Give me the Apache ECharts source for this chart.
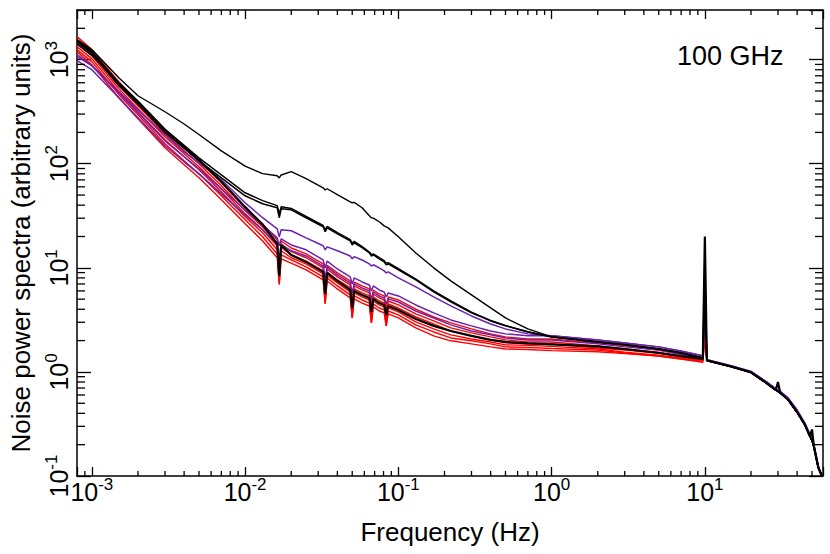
<!DOCTYPE html>
<html>
<head>
<meta charset="utf-8">
<script src="https://cdn.jsdelivr.net/npm/echarts@6/dist/echarts.min.js"></script>
<style>
  html, body { margin: 0; padding: 0; background: #fff; }
  #chart { width: 830px; height: 554px; }
</style>
</head>
<body>
<div id="chart"></div>
<script>
// frequencies (Hz), shared by every spectrum
const freq = [0.0008, 0.001, 0.0015, 0.002, 0.003, 0.004, 0.005, 0.007, 0.01, 0.013,
  0.0162, 0.0167, 0.0172, 0.02, 0.025,
  0.0323, 0.0333, 0.0343, 0.04,
  0.0485, 0.05, 0.0515, 0.058,
  0.0647, 0.0667, 0.0687, 0.075,
  0.0808, 0.0833, 0.0858,
  0.1, 0.13, 0.17, 0.22, 0.3, 0.4, 0.5, 0.7,
  1, 2, 3, 5, 7, 9.7, 10, 10.3,
  15, 20, 25, 29, 30, 31, 35, 40, 45, 48.5, 50, 51.5, 55, 58];

// red spectra
const red1 = [1664, 1248, 614, 394, 207, 142.4, 106.7, 65.6, 37.7, 26.5,
  18.5, 9.95, 18.1, 15.5, 13.6,
  10.9, 6.27, 10.6, 8.94,
  7.48, 4.59, 7.3, 6.70,
  6.27, 4.21, 6.12, 5.61,
  5.37, 3.94, 5.25,
  4.91, 4.02, 3.37, 2.96, 2.59, 2.32, 2.17, 2.07,
  2.07, 1.90, 1.78, 1.62, 1.48, 1.36, 3.5, 1.29,
  1.12, 0.99, 0.79, 0.67, 0.65, 0.63, 0.54, 0.41, 0.31, 0.24, 0.22, 0.19, 0.12, 0.1];
const red2 = [1557, 1168, 562, 361, 194, 133.2, 99.9, 61.4, 35.3, 24.8,
  17.3, 9.72, 16.9, 14.3, 12.5,
  9.97, 5.86, 9.75, 8.18,
  6.85, 4.30, 6.7, 6.13,
  5.74, 3.94, 5.6, 5.14,
  4.91, 3.68, 4.8,
  4.40, 3.61, 3.09, 2.65, 2.37, 2.17, 2.03, 1.94,
  1.94, 1.78, 1.66, 1.55, 1.42, 1.33, 3.0, 1.29,
  1.12, 0.99, 0.79, 0.67, 0.65, 0.63, 0.54, 0.41, 0.31, 0.24, 0.22, 0.19, 0.12, 0.1];
const red3 = [1425, 1093, 526, 338, 181.7, 124.7, 93.4, 57.4, 33.0, 23.2,
  16.2, 8.72, 15.8, 13.3, 11.6,
  9.34, 5.25, 9.1, 7.65,
  6.41, 3.85, 6.27, 5.74,
  5.37, 3.52, 5.25, 4.80,
  4.59, 3.30, 4.49,
  4.11, 3.37, 2.89, 2.47, 2.22, 2.03, 1.90, 1.86,
  1.86, 1.70, 1.62, 1.52, 1.39, 1.30, 2.8, 1.29,
  1.12, 0.99, 0.79, 0.67, 0.65, 0.63, 0.54, 0.41, 0.31, 0.24, 0.22, 0.19, 0.12, 0.1];
const red4 = [1334, 1023, 492, 316, 170, 116.7, 87.4, 53.8, 30.9, 21.7,
  14.9, 8.2, 14.6, 12.5, 10.9,
  8.74, 5.03, 8.5, 7.16,
  5.86, 3.60, 5.74, 5.25,
  4.91, 3.29, 4.8, 4.40,
  4.21, 3.09, 4.12,
  3.77, 3.02, 2.59, 2.27, 2.07, 1.94, 1.82, 1.80,
  1.76, 1.66, 1.55, 1.45, 1.36, 1.30, 2.5, 1.29,
  1.12, 0.99, 0.79, 0.67, 0.65, 0.63, 0.54, 0.41, 0.31, 0.24, 0.22, 0.19, 0.12, 0.1];
const red5 = [1248, 957, 461, 296, 155.6, 106.7, 80.0, 49.2, 28.9, 19.9,
  13.6, 7.3, 13.3, 11.9, 10.2,
  8.18, 4.60, 8.0, 6.70,
  5.49, 3.30, 5.37, 4.91,
  4.59, 2.95, 4.49, 4.11,
  3.94, 2.77, 3.85,
  3.53, 2.83, 2.42, 2.12, 1.99, 1.86, 1.74, 1.72,
  1.68, 1.62, 1.52, 1.42, 1.33, 1.27, 2.4, 1.29,
  1.12, 0.99, 0.79, 0.67, 0.65, 0.63, 0.54, 0.41, 0.31, 0.24, 0.22, 0.19, 0.12, 0.1];
const red6 = [1194, 895, 431, 271, 142.4, 97.7, 73.2, 45.0, 26.5, 18.1,
  12.5, 6.9, 12.2, 11.1, 9.55,
  7.65, 4.50, 7.48, 6.27,
  5.14, 3.30, 5.03, 4.59,
  4.30, 2.95, 4.21, 3.85,
  3.69, 2.77, 3.61,
  3.30, 2.65, 2.22, 1.99, 1.86, 1.74, 1.66, 1.64,
  1.60, 1.56, 1.50, 1.42, 1.33, 1.24, 2.2, 1.29,
  1.12, 0.99, 0.79, 0.67, 0.65, 0.63, 0.54, 0.41, 0.31, 0.24, 0.22, 0.19, 0.12, 0.1];

// purple spectra
const purpleA = [1117, 875, 492, 330, 190, 130, 102, 70.2, 42.2, 30.3,
  23.7, 19.9, 23.2, 22.7, 19.4,
  16.3, 14.9, 15.9, 14.6,
  13.0, 12.2, 12.8, 11.9,
  10.9, 10.4, 10.7, 10.0,
  9.35, 8.95, 9.15,
  8.0, 6.56, 5.26, 4.31, 3.45, 2.89, 2.59, 2.32,
  2.22, 2.03, 1.90, 1.74, 1.59, 1.43, 5, 1.31,
  1.14, 1.01, 0.81, 0.69, 0.67, 0.65, 0.56, 0.43, 0.32, 0.25, 0.23, 0.2, 0.125, 0.1];
const purpleB = [1069, 876, 481, 309, 166, 116.7, 89.4, 57.4, 36.1, 25.9,
  19.4, 16.3, 19.0, 16.6, 14.9,
  11.9, 9.97, 11.6, 9.75,
  8.18, 7.0, 8.0, 7.32,
  6.85, 6.0, 6.7, 6.13,
  5.86, 5.25, 5.74,
  5.37, 4.40, 3.69, 3.16, 2.77, 2.47, 2.32, 2.22,
  2.22, 2.03, 1.90, 1.74, 1.58, 1.42, 4.5, 1.31,
  1.14, 1.01, 0.81, 0.69, 0.67, 0.65, 0.56, 0.43, 0.32, 0.25, 0.23, 0.2, 0.125, 0.1];
const purpleC = [978, 801, 431, 277, 149, 104.4, 80.0, 51.4, 32.3, 23.2,
  16.9, 12.1, 16.5, 14.6, 13.0,
  10.4, 7.98, 10.2, 8.55,
  7.16, 5.74, 7.0, 6.41,
  6.0, 5.03, 5.87, 5.37,
  5.14, 4.5, 5.03,
  4.70, 3.85, 3.30, 2.83, 2.47, 2.27, 2.12, 2.03,
  2.03, 1.86, 1.74, 1.62, 1.48, 1.36, 3.8, 1.29,
  1.12, 0.99, 0.79, 0.67, 0.65, 0.63, 0.54, 0.41, 0.31, 0.24, 0.22, 0.19, 0.12, 0.1];

// black spectra
const blackTop = [1560, 1250, 670, 450, 316, 241, 191, 133, 95, 80.3,
  76.7, 73, 78, 84, 72,
  58.7, 56, 57.5, 50.4,
  43.1, 42.2, 42.6, 37.8,
  31.6, 30.3, 30.0, 27.7,
  25.3, 24.8, 24.2,
  19.9, 13.9, 10.0, 7.5, 5.5, 4.12, 3.3, 2.59,
  2.17, 1.94, 1.82, 1.66, 1.52, 1.36, 6, 1.29,
  1.12, 0.99, 0.79, 0.67, 0.65, 0.63, 0.54, 0.41, 0.31, 0.24, 0.22, 0.19, 0.12, 0.1];
const blackMid1 = [1490, 1142, 562, 373, 200, 140, 106.7, 73.2, 49.2, 41.3,
  37.7, 30.3, 36.9, 36.1, 30.3,
  24.8, 22.2, 24.2, 21.2,
  18.2, 16.6, 17.4, 15.6,
  13.9, 13.0, 13.3, 12.2,
  11.4, 10.7, 10.9,
  9.57, 7.67, 5.87, 4.71, 3.69, 3.09, 2.77, 2.42,
  2.17, 1.94, 1.82, 1.66, 1.52, 1.36, 12, 1.29,
  1.12, 0.99, 0.79, 0.67, 0.65, 0.63, 0.54, 0.41, 0.31, 0.24, 0.22, 0.19, 0.12, 0.1];
const blackMid2 = [1420, 1100, 600, 400, 214, 150, 114, 78.3, 52.6, 44.2,
  39.6, 33, 38.6, 37.2, 31.2,
  25.5, 23.2, 25.0, 21.8,
  18.7, 17.2, 18.0, 16.0,
  14.2, 13.4, 13.6, 12.5,
  11.7, 11.1, 11.2,
  9.8, 7.8, 6.0, 4.8, 3.75, 3.12, 2.79, 2.43,
  2.18, 1.95, 1.83, 1.67, 1.53, 1.37, 8, 1.29,
  1.12, 0.99, 0.79, 0.67, 0.65, 0.63, 0.54, 0.41, 0.31, 0.24, 0.22, 0.19, 0.12, 0.1];
const blackLow = [1523, 1194, 588, 386, 212, 145.6, 109, 67.1, 38.5, 26.0,
  17.0, 8.4, 16.6, 13.3, 11.4,
  9.14, 5.61, 8.94, 7.48,
  6.13, 4.11, 6.0, 5.49,
  5.14, 3.77, 5.03, 4.59,
  4.40, 3.52, 4.30,
  3.94, 3.23, 2.77, 2.47, 2.22, 2.03, 1.94, 1.88,
  1.84, 1.76, 1.66, 1.52, 1.42, 1.33, 20, 1.29,
  1.12, 0.99, 0.79, 0.67, 0.80, 0.63, 0.54, 0.41, 0.31, 0.24, 0.28, 0.19, 0.12, 0.1];

// log minor tick positions
const xMinorTicks = [0.0009,
  0.002, 0.003, 0.004, 0.005, 0.006, 0.007, 0.008, 0.009,
  0.02, 0.03, 0.04, 0.05, 0.06, 0.07, 0.08, 0.09,
  0.2, 0.3, 0.4, 0.5, 0.6, 0.7, 0.8, 0.9,
  2, 3, 4, 5, 6, 7, 8, 9,
  20, 30, 40, 50];
const yMinorTicks = [0.2, 0.3, 0.4, 0.5, 0.6, 0.7, 0.8, 0.9,
  2, 3, 4, 5, 6, 7, 8, 9,
  20, 30, 40, 50, 60, 70, 80, 90,
  200, 300, 400, 500, 600, 700, 800, 900,
  2000];

const X_MIN = 0.0008, X_MAX = 59;
const Y_MIN = 0.1, Y_MAX = 3000;
const FONT = '"Liberation Sans", Arial, Helvetica, sans-serif';
const RED = '#ff0000', PURPLE = '#6a22ac', BLACK = '#000000';

const pairs = ys => freq.map((f, i) => [f, ys[i]]);

// "10^n" labels only on the decades
const powLabel = v => {
  const e = Math.log10(v);
  if (Math.abs(e - Math.round(e)) > 1e-6) return '';
  return '{b|10}{s|' + Math.round(e) + '}';
};
const labelRich = {
  b: { fontSize: 25, lineHeight: 32, fontFamily: FONT, color: '#000' },
  s: { fontSize: 17, lineHeight: 17, verticalAlign: 'top', fontFamily: FONT, color: '#000' }
};

const lineSeries = (name, ys, color, width) => ({
  name: name,
  type: 'line',
  data: pairs(ys),
  showSymbol: false,
  symbol: 'none',
  lineStyle: { color: color, width: width },
  itemStyle: { color: color },
  emphasis: { disabled: true }
});

const tickStyle = { stroke: '#000', lineWidth: 1.3 };

const axisLineStyle = { show: true, onZero: false, lineStyle: { color: '#000', width: 1.5 } };

const chart = echarts.init(document.getElementById('chart'), null, { renderer: 'svg' });

chart.setOption({
  animation: false,
  backgroundColor: '#fff',
  grid: { left: 77, right: 7, top: 10, bottom: 78, outerBoundsMode: 'none' },
  xAxis: [
    {
      type: 'log', logBase: 10, min: X_MIN, max: X_MAX, position: 'bottom',
      axisLine: axisLineStyle,
      axisTick: { inside: true, length: 9, lineStyle: { color: '#000', width: 1.3 } },
      axisLabel: { formatter: powLabel, margin: 0, rich: labelRich },
      splitLine: { show: false },
      name: 'Frequency (Hz)', nameLocation: 'middle', nameGap: 43,
      nameTextStyle: { fontSize: 26, color: '#000', fontFamily: FONT }
    },
    {
      type: 'log', logBase: 10, min: X_MIN, max: X_MAX, position: 'top',
      axisLine: axisLineStyle,
      axisTick: { inside: true, length: 9, lineStyle: { color: '#000', width: 1.3 } },
      axisLabel: { show: false },
      splitLine: { show: false }
    }
  ],
  yAxis: [
    {
      type: 'log', logBase: 10, min: Y_MIN, max: Y_MAX, position: 'left',
      axisLine: axisLineStyle,
      axisTick: { inside: true, length: 14, lineStyle: { color: '#000', width: 1.3 } },
      axisLabel: { formatter: powLabel, rotate: 90, margin: 2, rich: labelRich },
      splitLine: { show: false },
      name: 'Noise power spectra (arbitrary units)', nameLocation: 'middle', nameGap: 43,
      nameTextStyle: { fontSize: 26, color: '#000', fontFamily: FONT }
    },
    {
      type: 'log', logBase: 10, min: Y_MIN, max: Y_MAX, position: 'right',
      axisLine: axisLineStyle,
      axisTick: { inside: true, length: 14, lineStyle: { color: '#000', width: 1.3 } },
      axisLabel: { show: false },
      splitLine: { show: false }
    }
  ],
  graphic: [{
    type: 'text', left: 677, top: 42,
    style: { text: '100 GHz', fontSize: 27, fontFamily: FONT, fill: '#000' }
  }],
  series: [
    lineSeries('red1', red1, RED, 1.4),
    lineSeries('red2', red2, RED, 1.4),
    lineSeries('red3', red3, RED, 1.4),
    lineSeries('red4', red4, RED, 1.4),
    lineSeries('red5', red5, RED, 1.4),
    lineSeries('red6', red6, RED, 1.4),
    lineSeries('purpleA', purpleA, PURPLE, 1.5),
    lineSeries('purpleB', purpleB, PURPLE, 1.5),
    lineSeries('purpleC', purpleC, PURPLE, 1.5),
    lineSeries('blackMid1', blackMid1, BLACK, 1.5),
    lineSeries('blackMid2', blackMid2, BLACK, 1.5),
    lineSeries('blackTop', blackTop, BLACK, 1.4),
    lineSeries('blackLow', blackLow, BLACK, 2.2),
    {
      // minor ticks on bottom and top axes
      type: 'custom', coordinateSystem: 'cartesian2d', silent: true, z: 5, clip: false,
      data: xMinorTicks.map(v => [v, Y_MIN]),
      renderItem: (params, api) => {
        const b = api.coord([api.value(0), Y_MIN]);
        const t = api.coord([api.value(0), Y_MAX]);
        return {
          type: 'group', children: [
            { type: 'line', shape: { x1: b[0], y1: b[1], x2: b[0], y2: b[1] - 5 }, style: tickStyle },
            { type: 'line', shape: { x1: t[0], y1: t[1], x2: t[0], y2: t[1] + 5 }, style: tickStyle }
          ]
        };
      }
    },
    {
      // minor ticks on left and right axes
      type: 'custom', coordinateSystem: 'cartesian2d', silent: true, z: 5, clip: false,
      data: yMinorTicks.map(v => [X_MIN, v]),
      renderItem: (params, api) => {
        const l = api.coord([X_MIN, api.value(1)]);
        const r = api.coord([X_MAX, api.value(1)]);
        return {
          type: 'group', children: [
            { type: 'line', shape: { x1: l[0], y1: l[1], x2: l[0] + 8, y2: l[1] }, style: tickStyle },
            { type: 'line', shape: { x1: r[0], y1: r[1], x2: r[0] - 8, y2: r[1] }, style: tickStyle }
          ]
        };
      }
    }
  ]
});

window.addEventListener('resize', () => chart.resize());
</script>
</body>
</html>
